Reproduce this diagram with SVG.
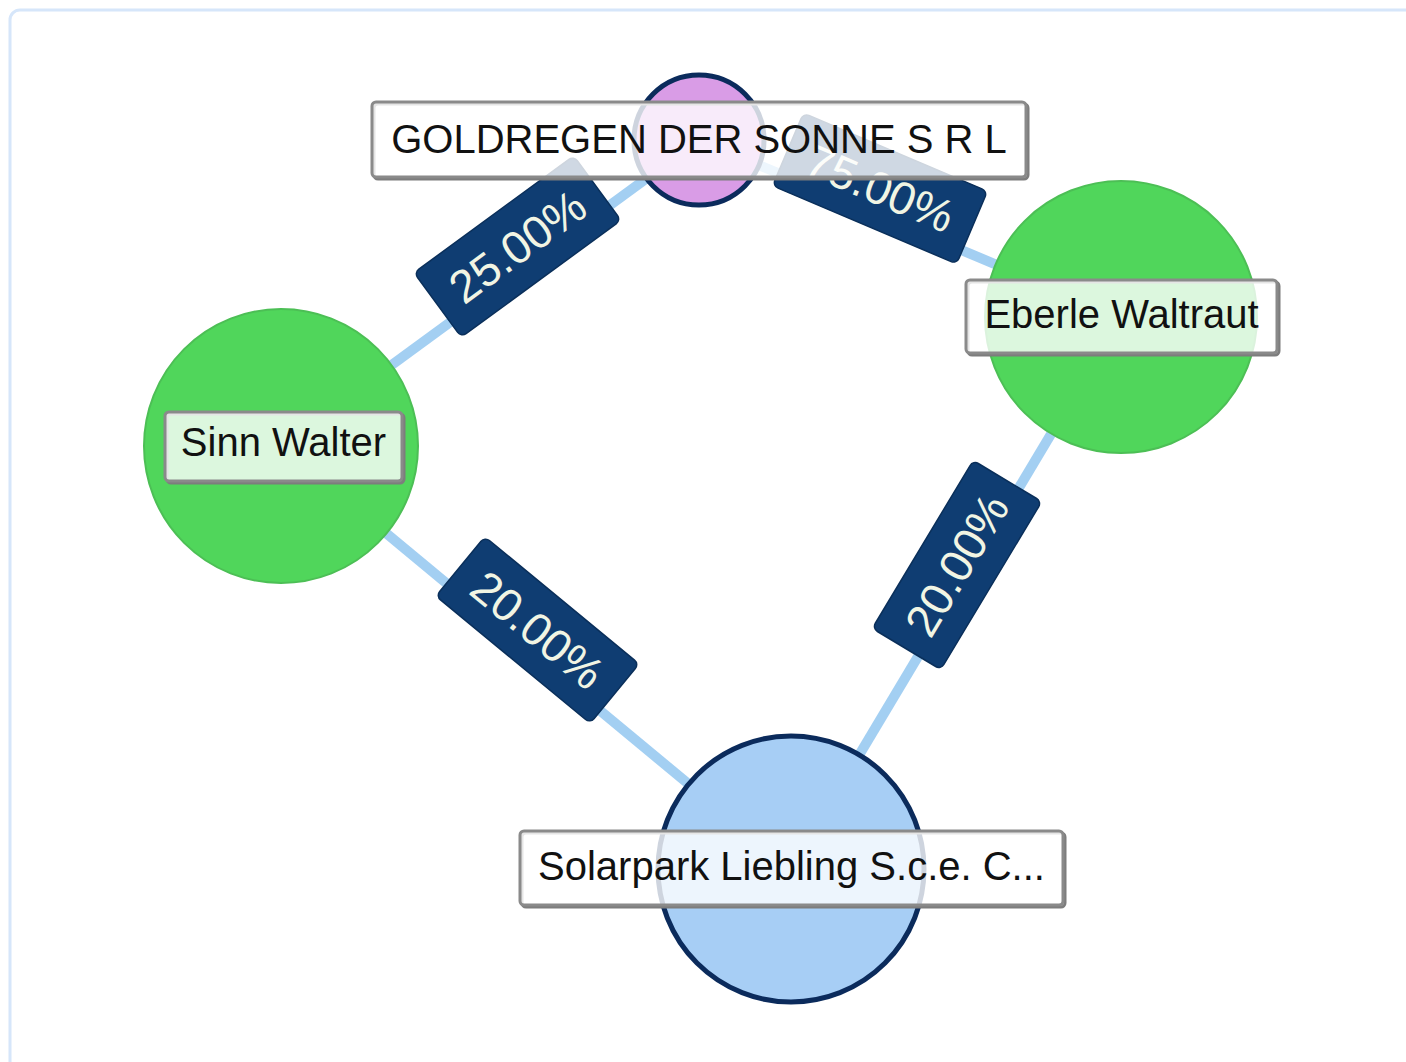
<svg xmlns="http://www.w3.org/2000/svg" width="1406" height="1062" viewBox="0 0 1406 1062">
<defs>
<style>
.frame{fill:#ffffff;stroke:#d6e6fa;stroke-width:3}
.edge{stroke:#a3cff2;stroke-width:10;stroke-linecap:butt;fill:none}
.elbl rect{fill:#0f3d72;stroke:#0a2f5a;stroke-width:1.5}
.elbl text{font-family:"Liberation Sans",Arial,sans-serif;font-size:46px;fill:#f1f5e4;text-anchor:middle}
.green{fill:#50d65b;stroke:#4cbf55;stroke-width:2}
.ent{stroke:#0b2b5c;stroke-width:5}
.nlbl .sh{fill:none;stroke:#7d7d7d;stroke-width:3}
.nlbl .bx{fill:#ffffff;fill-opacity:0.8;stroke:#8a8a8a;stroke-width:3}
.nlbl text{font-family:"Liberation Sans",Arial,sans-serif;font-size:40px;fill:#111111;text-anchor:middle}
</style>
</defs>
<rect class="frame" x="10" y="10" width="1420" height="1080" rx="10"/>
<g id="connectors">
<line class="edge" x1="281" y1="446" x2="699" y2="140"/>
<line class="edge" x1="699" y1="140" x2="1121" y2="317"/>
<line class="edge" x1="281" y1="446" x2="791" y2="869"/>
<line class="edge" x1="1121" y1="317" x2="791" y2="869"/>
<g class="elbl" transform="translate(517.5,246.5) rotate(-36.2)"><rect x="-99" y="-40" width="198" height="80" rx="6"/><text x="0" y="16">25.00%</text></g>
<g class="elbl" transform="translate(880,188.5) rotate(23)"><rect x="-100" y="-39.5" width="200" height="79" rx="6"/><text x="0" y="16">75.00%</text></g>
<g class="elbl" transform="translate(537.5,630) rotate(39.5)"><rect x="-100" y="-38.5" width="200" height="77" rx="6"/><text x="0" y="16">20.00%</text></g>
<g class="elbl" transform="translate(957,565) rotate(-59)"><rect x="-98" y="-40" width="196" height="80" rx="6"/><text x="0" y="16">20.00%</text></g>
</g>
<g id="node-goldregen">
<circle class="ent" cx="699" cy="140" r="65" fill="#d99ce6"/>
<g class="nlbl"><rect class="sh" x="374" y="104" width="654" height="75" rx="4"/><rect class="bx" x="372" y="102" width="654" height="75" rx="4"/><text x="699" y="153">GOLDREGEN DER SONNE S R L</text></g>
</g>
<g id="node-eberle">
<circle class="green" cx="1121" cy="317" r="136"/>
<g class="nlbl"><rect class="sh" x="968" y="282" width="311" height="73" rx="4"/><rect class="bx" x="966" y="280" width="311" height="73" rx="4"/><text x="1121.5" y="328">Eberle Waltraut</text></g>
</g>
<g id="node-sinn">
<circle class="green" cx="281" cy="446" r="137"/>
<g class="nlbl"><rect class="sh" x="167" y="414" width="237" height="69" rx="4"/><rect class="bx" x="165" y="412" width="237" height="69" rx="4"/><text x="283.5" y="456">Sinn Walter</text></g>
</g>
<g id="node-solarpark">
<circle class="ent" cx="791" cy="869" r="133" fill="#a7cef5"/>
<g class="nlbl"><rect class="sh" x="522" y="833" width="543" height="74" rx="4"/><rect class="bx" x="520" y="831" width="543" height="74" rx="4"/><text x="791.5" y="880">Solarpark Liebling S.c.e. C...</text></g>
</g>
</svg>
